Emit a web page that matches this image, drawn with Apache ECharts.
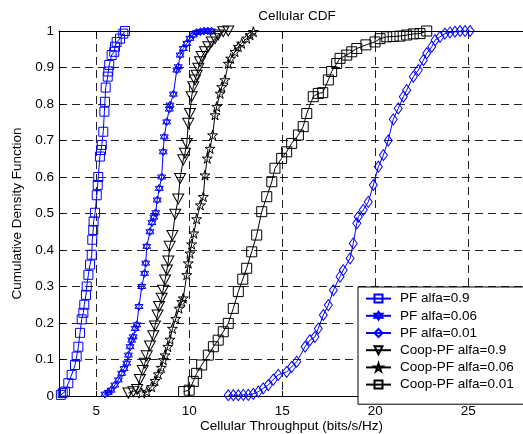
<!DOCTYPE html>
<html>
<head>
<meta charset="utf-8">
<script src="https://cdn.jsdelivr.net/npm/echarts@6/dist/echarts.min.js"></script>
<style>
  html, body { margin: 0; padding: 0; background: #fff; }
  #chart { width: 523px; height: 434px; }
</style>
</head>
<body>
<div id="chart"></div>
<script>
// tick values
var xTicks = [5, 10, 15, 20, 25];

// CDF points [throughput, probability]
var pf09 = [[3.1,0.003],[3.2,0.008],[3.32,0.012],[3.5,0.035],[3.68,0.058],[3.86,0.085],[3.95,0.108],[4.04,0.135],[4.13,0.173],[4.22,0.21],[4.31,0.228],[4.36,0.25],[4.45,0.277],[4.49,0.30],[4.58,0.332],[4.67,0.36],[4.76,0.387],[4.79,0.428],[4.84,0.455],[4.86,0.478],[4.94,0.502],[5.03,0.55],[5.08,0.578],[5.11,0.60],[5.2,0.656],[5.26,0.674],[5.30,0.688],[5.38,0.724],[5.44,0.779],[5.47,0.806],[5.51,0.845],[5.62,0.875],[5.65,0.889],[5.70,0.907],[5.83,0.934],[5.97,0.943],[6.01,0.957],[6.10,0.97],[6.28,0.979],[6.46,0.993],[6.55,1.0]];
var pf006 = [[5.47,0.005],[5.65,0.01],[5.8,0.016],[6.0,0.03],[6.19,0.044],[6.37,0.062],[6.5,0.075],[6.64,0.09],[6.73,0.112],[6.82,0.135],[6.91,0.153],[6.99,0.162],[7.1,0.185],[7.18,0.195],[7.3,0.245],[7.45,0.30],[7.6,0.336],[7.66,0.364],[7.72,0.41],[7.89,0.45],[8.0,0.475],[8.1,0.49],[8.2,0.502],[8.28,0.537],[8.39,0.569],[8.52,0.60],[8.6,0.669],[8.66,0.71],[8.79,0.751],[8.93,0.786],[8.97,0.797],[9.15,0.827],[9.33,0.893],[9.41,0.902],[9.51,0.934],[9.68,0.952],[9.87,0.966],[10.04,0.98],[10.22,0.989],[10.4,0.996],[10.6,0.998],[10.8,1.0],[11.0,1.0],[11.2,1.0]];
var pf001 = [[12.10,0.002],[12.37,0.002],[12.64,0.002],[12.91,0.003],[13.18,0.003],[13.45,0.006],[13.72,0.012],[13.98,0.021],[14.25,0.03],[14.52,0.045],[14.79,0.058],[15.24,0.066],[15.51,0.08],[15.78,0.094],[16.23,0.135],[16.49,0.153],[16.76,0.162],[16.94,0.185],[17.21,0.222],[17.48,0.249],[17.75,0.29],[18.11,0.327],[18.28,0.345],[18.65,0.377],[18.82,0.418],[19.01,0.473],[19.09,0.491],[19.36,0.51],[19.63,0.532],[19.90,0.578],[20.17,0.628],[20.44,0.66],[20.70,0.70],[20.97,0.758],[21.24,0.788],[21.51,0.82],[21.69,0.838],[22.05,0.875],[22.32,0.893],[22.59,0.92],[22.77,0.939],[23.04,0.957],[23.22,0.975],[23.48,0.984],[23.75,0.993],[24.02,0.996],[24.29,0.998],[24.56,1.0],[24.83,1.0],[25.10,1.0]];
var coop09 = [[6.73,0.008],[7.0,0.012],[7.2,0.018],[7.35,0.045],[7.5,0.07],[7.62,0.09],[7.72,0.11],[7.89,0.137],[8.07,0.165],[8.16,0.192],[8.3,0.222],[8.38,0.245],[8.52,0.268],[8.6,0.29],[8.7,0.318],[8.8,0.345],[8.88,0.37],[8.95,0.41],[9.1,0.44],[9.25,0.498],[9.41,0.54],[9.51,0.596],[9.68,0.647],[9.77,0.665],[9.87,0.692],[9.95,0.747],[10.04,0.774],[10.13,0.82],[10.22,0.847],[10.31,0.866],[10.40,0.879],[10.49,0.898],[10.58,0.916],[10.67,0.93],[10.85,0.943],[11.03,0.957],[11.21,0.97],[11.39,0.979],[11.56,0.989],[11.83,0.998],[12.10,1.0]];
var coop006 = [[7.45,0.008],[7.72,0.012],[7.98,0.025],[8.16,0.042],[8.34,0.06],[8.5,0.078],[8.61,0.099],[8.70,0.112],[8.85,0.135],[8.97,0.155],[9.1,0.185],[9.28,0.212],[9.45,0.24],[9.60,0.258],[9.68,0.268],[9.87,0.332],[9.95,0.364],[10.04,0.391],[10.13,0.416],[10.25,0.446],[10.4,0.485],[10.6,0.523],[10.76,0.546],[10.85,0.605],[10.97,0.651],[11.12,0.678],[11.26,0.715],[11.39,0.77],[11.48,0.793],[11.66,0.829],[11.75,0.847],[11.92,0.866],[12.10,0.911],[12.23,0.925],[12.46,0.943],[12.64,0.957],[12.82,0.966],[13.09,0.98],[13.27,0.989],[13.45,0.998]];
var coop001 = [[9.7,0.012],[10.0,0.016],[10.22,0.04],[10.4,0.062],[10.67,0.085],[11.03,0.112],[11.3,0.135],[11.56,0.153],[11.83,0.176],[12.10,0.199],[12.37,0.24],[12.64,0.286],[12.88,0.32],[13.09,0.35],[13.36,0.395],[13.63,0.441],[13.90,0.505],[14.17,0.546],[14.44,0.587],[14.61,0.624],[14.97,0.651],[15.24,0.669],[15.51,0.692],[15.87,0.715],[16.13,0.738],[16.32,0.774],[16.67,0.82],[16.94,0.829],[17.18,0.831],[17.48,0.866],[17.66,0.889],[17.93,0.911],[18.11,0.925],[18.47,0.934],[18.74,0.943],[19.01,0.952],[19.5,0.962],[19.99,0.97],[20.26,0.979],[20.62,0.984],[20.97,0.985],[21.33,0.986],[21.69,0.989],[22.05,0.992],[22.41,0.993],[22.77,1.0]];

var FONT = "Arial, 'Liberation Sans', sans-serif";
var FS = 13.5;
var BLUE = "#0000ff";

// marker shapes
var hexagram = "path://M0,-10 L8.66,5 L-8.66,5 Z M0,10 L8.66,-5 L-8.66,-5 Z";
var star5 = "path://M0,-10 L2.23,-3.07 L9.51,-3.09 L3.61,1.17 L5.88,8.09 L0,3.8 L-5.88,8.09 L-3.61,1.17 L-9.51,-3.09 L-2.23,-3.07 Z";
var triDown = "path://M-10,-8 L10,-8 L0,9 Z";

function mkSeries(name, data, color, symbol, size) {
  return {
    name: name,
    type: "line",
    data: data,
    symbol: symbol,
    symbolSize: size,
    showAllSymbol: true,
    lineStyle: { color: color, width: 1 },
    itemStyle: { color: "rgba(0,0,0,0)", borderColor: color, borderWidth: 1 },
    emphasis: { disabled: true },
    z: 3
  };
}

var chart = echarts.init(document.getElementById("chart"));
chart.setOption({
  animation: false,
  backgroundColor: "#fff",
  textStyle: { fontFamily: FONT },
  title: {
    text: "Cellular CDF",
    left: 292,
    top: 4,
    textAlign: "center",
    textStyle: { fontSize: FS, fontWeight: "normal", color: "#000", fontFamily: FONT }
  },
  grid: { left: 59, top: 31, width: 465, height: 365, containLabel: false, outerBoundsMode: "none" },
  legend: {
    orient: "vertical",
    left: 358,
    top: 287,
    padding: [4, 60, 12, 7],
    itemWidth: 25,
    itemHeight: 10,
    itemGap: 2,
    backgroundColor: "#fff",
    borderColor: "#000",
    borderWidth: 1,
    textStyle: { fontSize: FS, lineHeight: 15.2, color: "#000", fontFamily: FONT, padding: [0, 0, 0, 4] },
    data: ["PF alfa=0.9", "PF alfa=0.06", "PF alfa=0.01", "Coop-PF alfa=0.9", "Coop-PF alfa=0.06", "Coop-PF alfa=0.01"],
    z: 10
  },
  xAxis: [{
    type: "value",
    min: 3,
    max: 28,
    name: "Cellular Throughput (bits/s/Hz)",
    nameLocation: "middle",
    nameGap: 23,
    nameMoveOverlap: false,
    nameTextStyle: { fontSize: FS, color: "#000", fontFamily: FONT },
    axisLine: { lineStyle: { color: "#000", width: 1 } },
    axisTick: { inside: true, length: 5, customValues: xTicks, lineStyle: { color: "#000" } },
    axisLabel: { customValues: xTicks, fontSize: FS, color: "#000", margin: 8, fontFamily: FONT },
    splitLine: { show: true, lineStyle: { color: "#222", type: [8, 5], width: 1 } }
  }, {
    type: "value",
    position: "top",
    min: 3,
    max: 28,
    axisLine: { show: true, onZero: false, lineStyle: { color: "#000", width: 1 } },
    axisTick: { show: true, inside: true, length: 5, customValues: xTicks, lineStyle: { color: "#000" } },
    axisLabel: { show: false },
    splitLine: { show: false }
  }],
  yAxis: {
    type: "value",
    min: 0,
    max: 1,
    interval: 0.1,
    name: "Cumulative Density Function",
    nameLocation: "middle",
    nameGap: 35,
    nameMoveOverlap: false,
    nameTextStyle: { fontSize: FS, color: "#000", fontFamily: FONT },
    axisLine: { show: true, lineStyle: { color: "#000", width: 1 } },
    axisTick: { show: true, inside: true, length: 5, lineStyle: { color: "#000" } },
    axisLabel: { fontSize: FS, color: "#000", margin: 5, fontFamily: FONT },
    splitLine: { show: true, lineStyle: { color: "#222", type: [8, 5], width: 1 } }
  },
  series: [
    mkSeries("PF alfa=0.9", pf09, BLUE, "rect", 9),
    mkSeries("PF alfa=0.06", pf006, BLUE, hexagram, 8),
    mkSeries("PF alfa=0.01", pf001, BLUE, "diamond", [8, 11]),
    mkSeries("Coop-PF alfa=0.9", coop09, "#000", triDown, [11, 10]),
    mkSeries("Coop-PF alfa=0.06", coop006, "#000", star5, 10),
    mkSeries("Coop-PF alfa=0.01", coop001, "#000", "rect", 10)
  ]
});
</script>
</body>
</html>
